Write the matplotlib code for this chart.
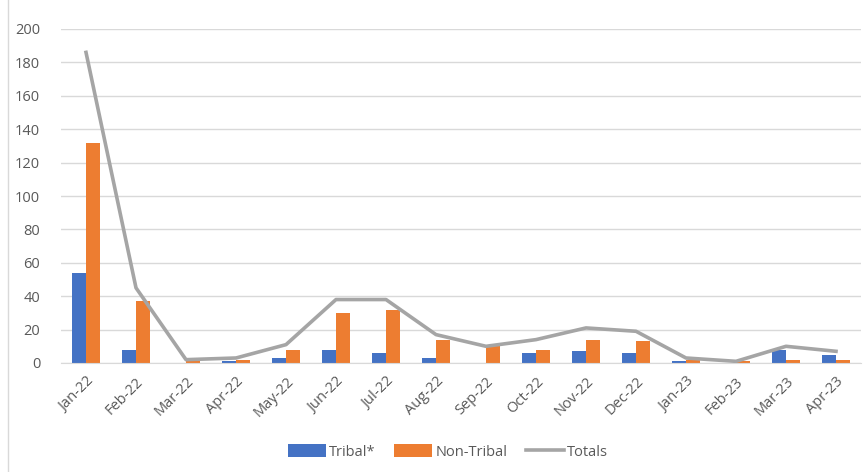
import matplotlib
matplotlib.use("Agg")
import matplotlib.pyplot as plt
import numpy as np
from matplotlib.lines import Line2D

months = ["Jan-22", "Feb-22", "Mar-22", "Apr-22", "May-22", "Jun-22", "Jul-22", "Aug-22",
          "Sep-22", "Oct-22", "Nov-22", "Dec-22", "Jan-23", "Feb-23", "Mar-23", "Apr-23"]
tribal = [54, 8, 0, 1, 3, 8, 6, 3, 0, 6, 7, 6, 1, 0, 8, 5]
non_tribal = [132, 37, 1, 2, 8, 30, 32, 14, 10, 8, 14, 13, 2, 1, 2, 2]
totals = [186, 45, 2, 3, 11, 38, 38, 17, 10, 14, 21, 19, 3, 1, 10, 7]
yticks = [0, 20, 40, 60, 80, 100, 120, 140, 160, 180, 200]

plt.rcParams['font.family'] = ['Open Sans', 'DejaVu Sans']
txt = '#595959'

fig = plt.figure(figsize=(8.63, 4.72), dpi=100)
ax = fig.add_axes([61/863, 1-363/472, 800/863, 334/472])

x = np.arange(len(months))
w = 0.28
ax.bar(x - w/2, tribal, w, color='#4472C4', label='Tribal*', zorder=2)
ax.bar(x + w/2, non_tribal, w, color='#ED7D31', label='Non-Tribal', zorder=2)
ax.plot(x, totals, color='#A5A5A5', lw=2.6, label='Totals', zorder=3, solid_joinstyle='round')

ax.set_xlim(-0.5, len(months) - 0.5)
ax.set_ylim(0, 200)
ax.set_yticks(yticks)
ax.set_yticklabels([str(v) for v in yticks], fontsize=10.5, color=txt)
ax.yaxis.grid(True, color='#D9D9D9', lw=1, zorder=0)
ax.set_axisbelow(True)
ax.set_xticks(x)
ax.set_xticklabels(months, rotation=45, ha='right', va='top', rotation_mode='anchor',
                   fontsize=10.5, color=txt)
ax.tick_params(axis='both', length=0)
ax.tick_params(axis='y', pad=15)
ax.tick_params(axis='x', pad=8)
for s in ['top', 'right', 'left']:
    ax.spines[s].set_visible(False)
ax.spines['bottom'].set_color('#D9D9D9')

fig.add_artist(Line2D([8/863, 8/863], [0, 1], color='#D9D9D9', lw=1))

handles, labels = ax.get_legend_handles_labels()
order = [1, 2, 0]
leg = fig.legend([handles[i] for i in order], [labels[i] for i in order],
                 loc='center', bbox_to_anchor=(448/863, 1-452/472), ncol=3, frameon=False,
                 fontsize=10.5, handlelength=2.6, handleheight=0.9, columnspacing=1.3,
                 handletextpad=0.2)
for t in leg.get_texts():
    t.set_color(txt)

fig.savefig('out.png', dpi=100)
